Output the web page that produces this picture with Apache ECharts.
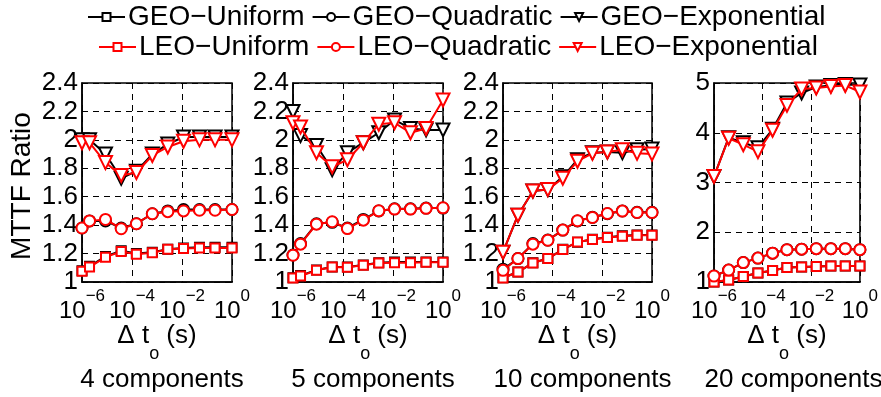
<!DOCTYPE html>
<html><head><meta charset="utf-8">
<script src="https://cdn.jsdelivr.net/npm/echarts@6/dist/echarts.min.js"></script>
<style>html,body{margin:0;padding:0;background:#fff}#c{width:881px;height:397px}</style>
</head><body><div id="c"></div>
<script>
// x positions (seconds)
const xA = [1e-6, 2e-6, 8.7e-6, 3.7e-5, 1.5e-4, 6.5e-4, 2.7e-3, 1.15e-2, 5e-2, 0.21, 1];
const xB = [1e-6, 4e-6, 1.6e-5, 6.4e-5, 2.56e-4, 1e-3, 4e-3, 1.6e-2, 6.4e-2, 0.25, 1];
const seriesNames = ['GEO\u2212Uniform', 'GEO\u2212Quadratic', 'GEO\u2212Exponential', 'LEO\u2212Uniform', 'LEO\u2212Quadratic', 'LEO\u2212Exponential'];
const panelTitles = ['4 components', '5 components', '10 components', '20 components'];

// 4 components
const geoUni1  = [1.08, 1.11, 1.18, 1.22, 1.20, 1.21, 1.23, 1.24, 1.245, 1.245, 1.245];
const geoQuad1 = [1.38, 1.43, 1.43, 1.38, 1.41, 1.48, 1.50, 1.51, 1.51, 1.51, 1.51];
const geoExp1  = [2.00, 2.00, 1.90, 1.73, 1.78, 1.90, 1.97, 2.02, 2.02, 2.02, 2.02];
const leoUni1  = [1.075, 1.105, 1.175, 1.215, 1.195, 1.205, 1.23, 1.235, 1.24, 1.24, 1.24];
const leoQuad1 = [1.38, 1.43, 1.44, 1.375, 1.41, 1.48, 1.495, 1.50, 1.505, 1.505, 1.51];
const leoExp1  = [1.98, 1.98, 1.84, 1.75, 1.77, 1.89, 1.95, 1.99, 2.00, 2.00, 2.00];
// 5 components
const geoUni2  = [1.03, 1.045, 1.085, 1.105, 1.105, 1.12, 1.135, 1.14, 1.14, 1.14, 1.14];
const geoQuad2 = [1.19, 1.27, 1.41, 1.42, 1.38, 1.44, 1.50, 1.515, 1.515, 1.52, 1.52];
const geoExp2  = [2.20, 2.03, 1.96, 1.79, 1.91, 1.98, 2.05, 2.14, 2.08, 2.07, 2.07];
const leoUni2  = [1.028, 1.042, 1.082, 1.106, 1.104, 1.118, 1.134, 1.136, 1.136, 1.139, 1.139];
const leoQuad2 = [1.188, 1.266, 1.407, 1.424, 1.376, 1.435, 1.501, 1.513, 1.513, 1.518, 1.522];
const leoExp2  = [2.12, 2.09, 1.91, 1.81, 1.86, 1.98, 2.11, 2.12, 2.05, 2.08, 2.28];
// 10 components
const geoUni3  = [1.03, 1.07, 1.135, 1.165, 1.23, 1.28, 1.30, 1.315, 1.325, 1.33, 1.33];
const geoQuad3 = [1.09, 1.165, 1.27, 1.295, 1.365, 1.43, 1.455, 1.48, 1.50, 1.49, 1.49];
const geoExp3  = [1.21, 1.47, 1.64, 1.65, 1.74, 1.86, 1.91, 1.915, 1.91, 1.93, 1.935];
const leoUni3  = [1.028, 1.07, 1.134, 1.165, 1.228, 1.282, 1.299, 1.313, 1.322, 1.329, 1.329];
const leoQuad3 = [1.082, 1.165, 1.266, 1.294, 1.365, 1.431, 1.454, 1.482, 1.499, 1.489, 1.489];
const leoExp3  = [1.21, 1.47, 1.64, 1.65, 1.73, 1.85, 1.905, 1.915, 1.93, 1.905, 1.90];
// 20 components
const geoUni4  = [1.00, 1.04, 1.11, 1.18, 1.23, 1.29, 1.30, 1.31, 1.32, 1.32, 1.32];
const geoQuad4 = [1.12, 1.24, 1.39, 1.48, 1.58, 1.65, 1.66, 1.67, 1.67, 1.67, 1.65];
const geoExp4  = [3.12, 3.90, 3.80, 3.70, 4.07, 4.60, 4.80, 4.92, 4.95, 4.97, 4.96];
const leoUni4  = [1.00, 1.04, 1.11, 1.18, 1.23, 1.29, 1.30, 1.31, 1.32, 1.32, 1.32];
const leoQuad4 = [1.12, 1.24, 1.39, 1.48, 1.58, 1.65, 1.66, 1.67, 1.67, 1.67, 1.65];
const leoExp4  = [3.12, 3.89, 3.76, 3.62, 4.05, 4.55, 4.88, 4.90, 4.93, 4.95, 4.82];

const FONT = '"Liberation Sans", Arial, Helvetica, sans-serif';
const panels = [
  {left: 82,  width: 150, x: xA, ymax: 2.4, yint: 0.2, data: [geoUni1, geoQuad1, geoExp1, leoUni1, leoQuad1, leoExp1]},
  {left: 293, width: 150, x: xA, ymax: 2.4, yint: 0.2, data: [geoUni2, geoQuad2, geoExp2, leoUni2, leoQuad2, leoExp2]},
  {left: 503, width: 149, x: xB, ymax: 2.4, yint: 0.2, data: [geoUni3, geoQuad3, geoExp3, leoUni3, leoQuad3, leoExp3]},
  {left: 714, width: 149, x: xB, ymax: 5,   yint: 1,   data: [geoUni4, geoQuad4, geoExp4, leoUni4, leoQuad4, leoExp4]}
];
const symbols = ['rect', 'circle', 'triangle'];
const symSizes = [9, 11, 13];

const grids = [], xAxes = [], yAxes = [], series = [], titles = [];
panels.forEach((p, i) => {
  grids.push({left: p.left, width: p.width, top: 83, height: 199, show: true, borderColor: '#000', borderWidth: 1.5, backgroundColor: 'transparent'});
  xAxes.push({
    type: 'log', logBase: 100, min: 1e-6, max: 1, gridIndex: i,
    axisLine: {show: true, lineStyle: {color: '#000', width: 1.5}},
    axisTick: {show: false},
    splitLine: {show: true, lineStyle: {color: '#000', type: [6, 5], width: 1}},
    axisLabel: {
      margin: 10, showMinLabel: true, showMaxLabel: true, hideOverlap: false,
      formatter: v => { const e = Math.round(Math.log10(v)); return '{b|10}{s|' + (e < 0 ? '\u2212' + (-e) : e) + '}'; },
      rich: {
        b: {fontSize: 24, fontFamily: FONT, color: '#000', lineHeight: 24, padding: [14, 0, 0, 0]},
        s: {fontSize: 17, fontFamily: FONT, color: '#000', lineHeight: 17, padding: [0, 0, 15, 0]}
      }
    },
    name: '{a|\u0394 t}{o|o}{a| (s)}', nameLocation: 'middle', nameGap: 50, nameMoveOverlap: false,
    nameTextStyle: {
      rich: {
        a: {fontSize: 26, fontFamily: FONT, color: '#000', lineHeight: 26, padding: [0, 0, 18, 0]},
        o: {fontSize: 18, fontFamily: FONT, color: '#000', lineHeight: 18, padding: [19, 0, 0, 0]}
      }
    }
  });
  yAxes.push({
    type: 'value', min: 1, max: p.ymax, interval: p.yint, gridIndex: i,
    axisLine: {show: true, lineStyle: {color: '#000', width: 1.5}},
    axisTick: {show: false},
    splitLine: {show: true, lineStyle: {color: '#000', type: [6, 5], width: 1}},
    axisLabel: {fontSize: 26, fontFamily: FONT, color: '#000', margin: 4, showMinLabel: true, showMaxLabel: true,
      formatter: v => String(+v.toFixed(1))}
  });
  p.data.forEach((arr, k) => {
    const col = k < 3 ? '#000' : '#ff0000';
    series.push({
      type: 'line', name: seriesNames[k], xAxisIndex: i, yAxisIndex: i,
      data: arr.map((y, j) => [p.x[j], y]),
      symbol: symbols[k % 3], symbolSize: symSizes[k % 3], symbolRotate: k % 3 === 2 ? 180 : 0,
      showAllSymbol: true, clip: false,
      lineStyle: {color: col, width: 2},
      itemStyle: {color: '#fff', borderColor: col, borderWidth: 2},
      emphasis: {disabled: true}, z: k < 3 ? 2 : 3
    });
  });
  titles.push({text: panelTitles[i], left: p.left + p.width / 2, top: 362, textAlign: 'center',
    textStyle: {fontSize: 26, fontWeight: 'normal', fontFamily: FONT, color: '#000'}});
});

const legendCommon = {itemWidth: 37, itemHeight: 10, itemGap: 7, selectedMode: false,
  textStyle: {fontSize: 28, fontFamily: FONT, color: '#000', padding: [0, 0, 0, -2]}, padding: 0};

const chart = echarts.init(document.getElementById('c'));
chart.setOption({
  animation: false,
  backgroundColor: '#fff',
  title: titles,
  legend: [
    Object.assign({data: seriesNames.slice(0, 3), left: 87, top: 3}, legendCommon),
    Object.assign({data: seriesNames.slice(3), left: 98, top: 33}, legendCommon)
  ],
  grid: grids, xAxis: xAxes, yAxis: yAxes, series: series,
  graphic: [{type: 'text', x: 22, y: 186, rotation: Math.PI / 2,
    style: {text: 'MTTF Ratio', fontSize: 28, fontFamily: FONT, fill: '#000', align: 'center', verticalAlign: 'middle'}}]
});
</script></body></html>
